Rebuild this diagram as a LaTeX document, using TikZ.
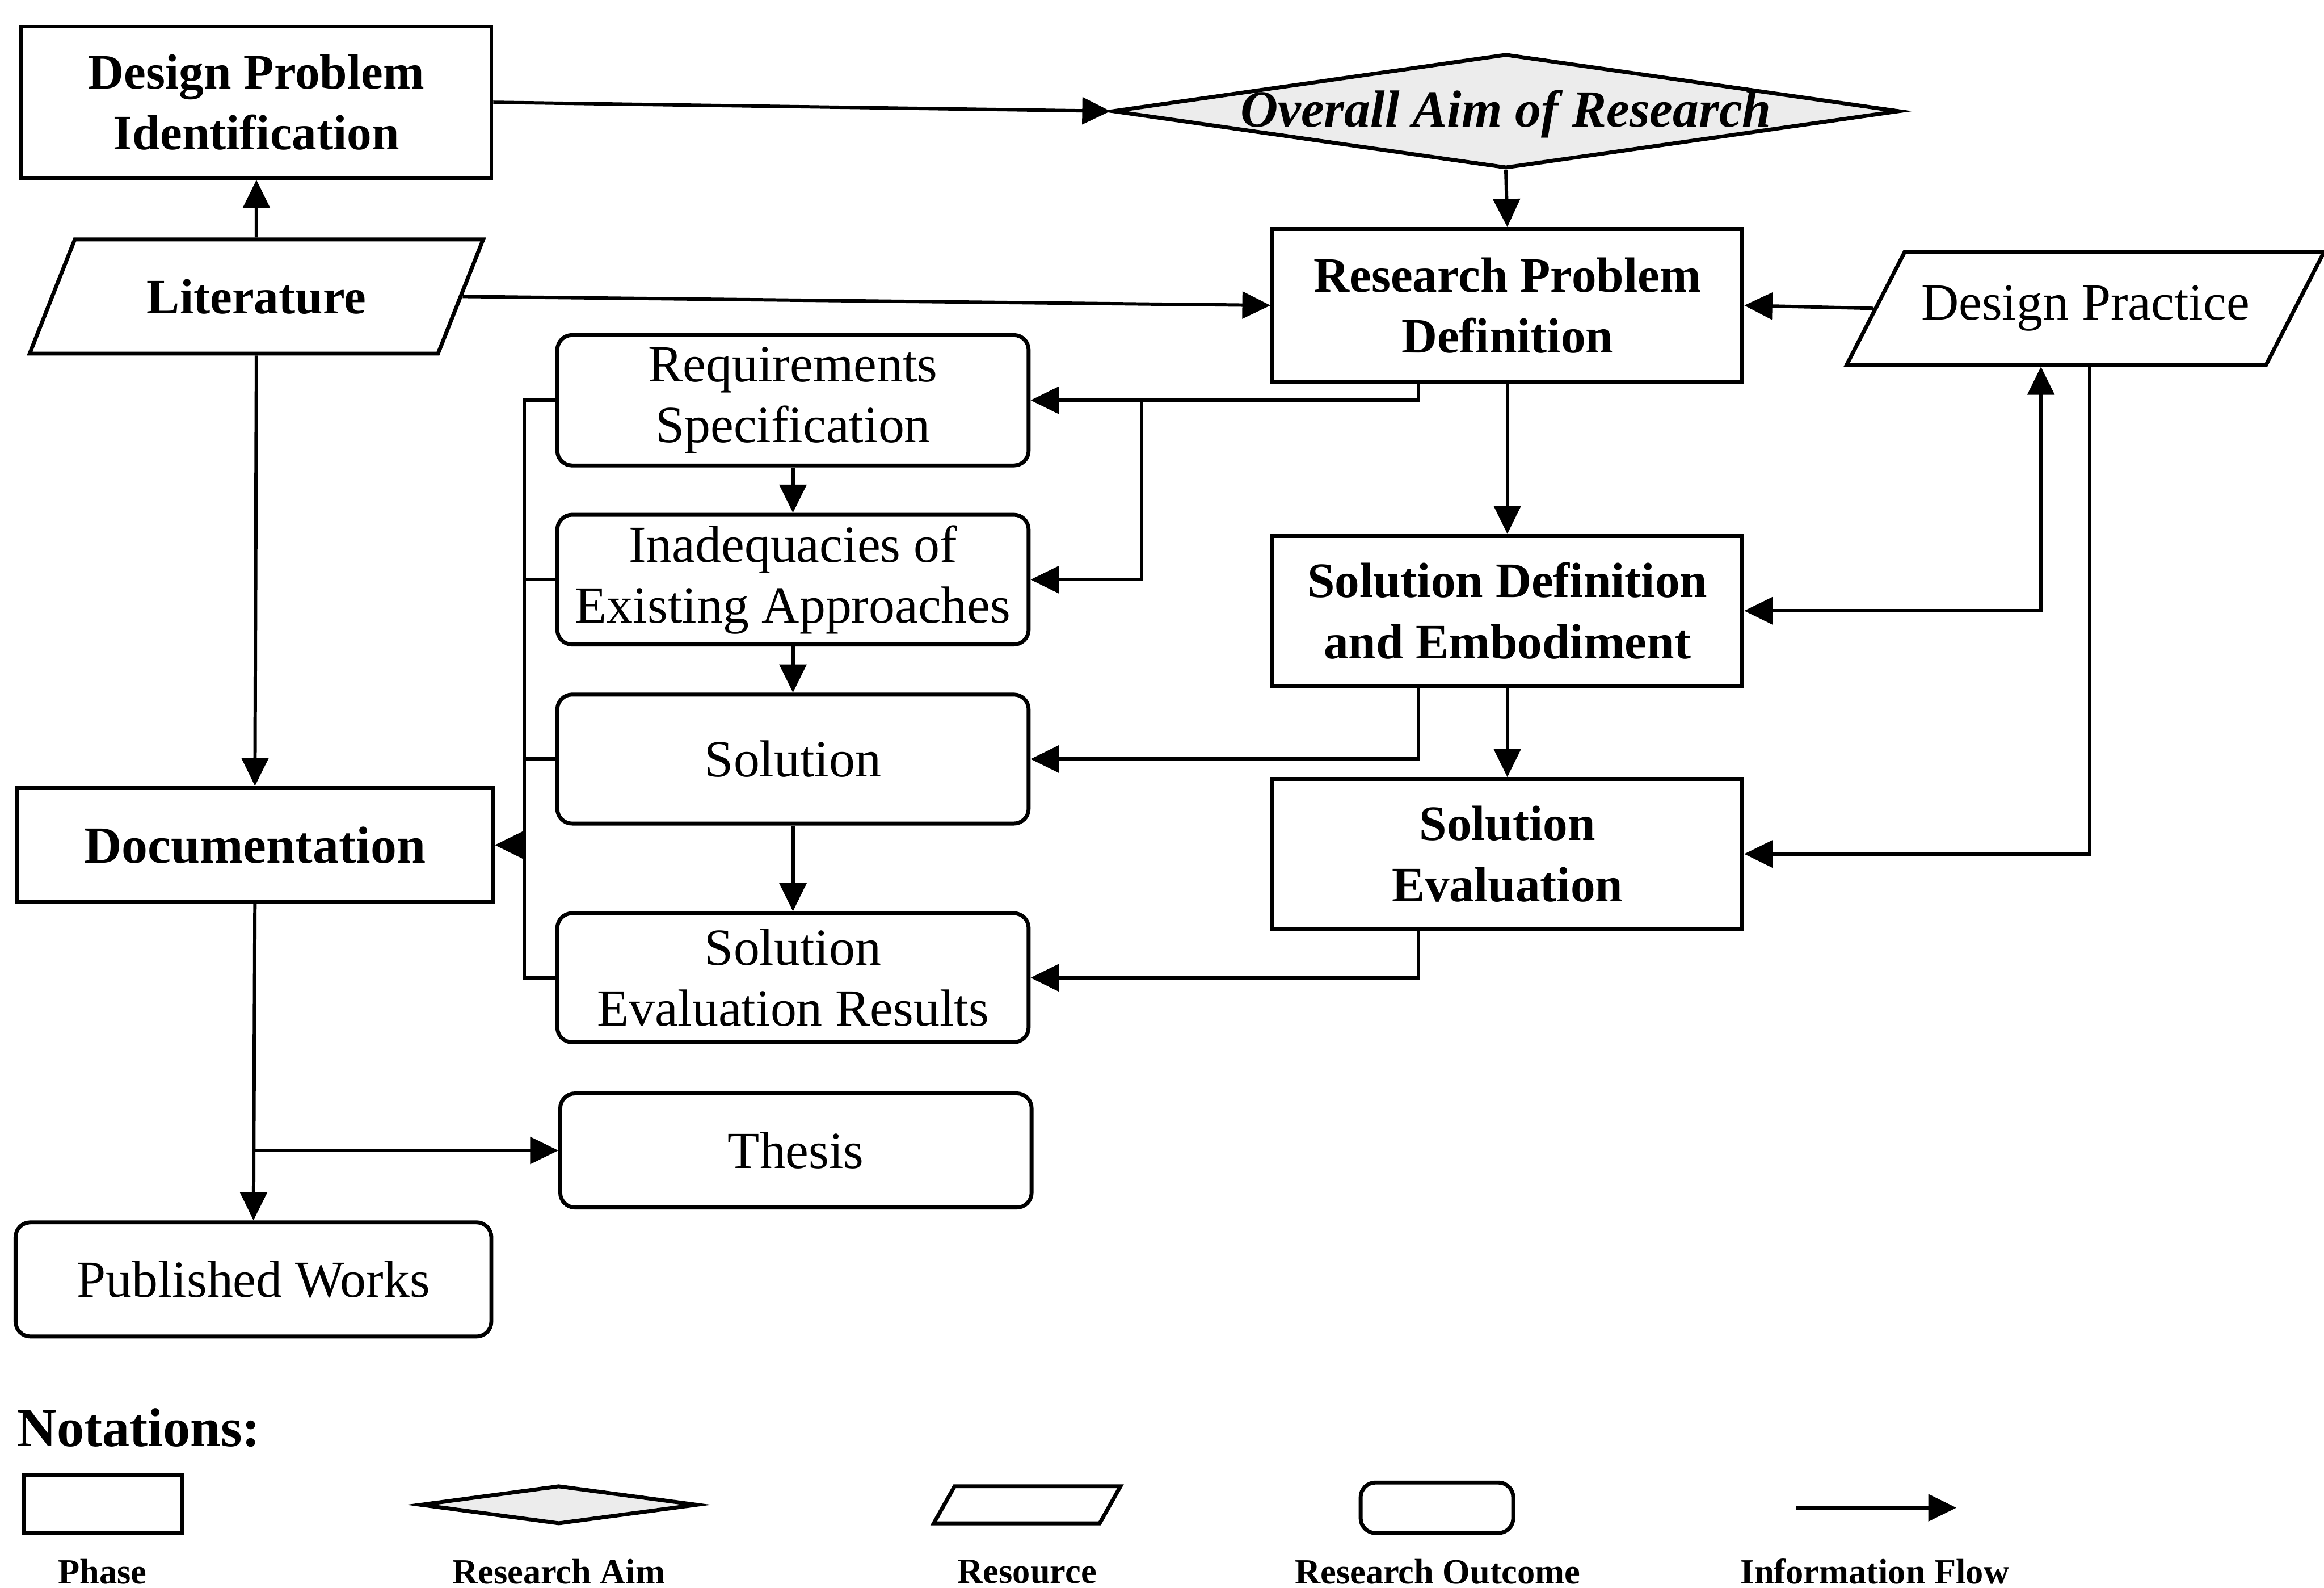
\documentclass[tikz,border=0pt]{standalone}
\usepackage{fontspec}
\setmainfont{Liberation Serif}
\usepackage{tikz}
\usetikzlibrary{arrows.meta, positioning, shapes.geometric, calc}
\definecolor{ink}{RGB}{0,0,0}
\definecolor{aimFill}{RGB}{236,236,236}
\tikzset{
  phaseNode/.style={
    draw=ink,
    line width=0.75pt,
    align=center,
    inner sep=2pt,
    font=\fontsize{9.5}{11.7}\selectfont\bfseries,
    fill=white
  },
  outcomeNode/.style={
    phaseNode,
    rounded corners=1mm,
    font=\fontsize{10}{11.7}\selectfont
  },
  resourceNode/.style={
    phaseNode,
    trapezium,
    trapezium stretches body,
    trapezium left angle=51,
    trapezium right angle=129,
    font=\fontsize{10}{11.7}\selectfont
  },
  aimNode/.style={
    draw=ink,
    line width=0.75pt,
    diamond,
    fill=aimFill,
    inner sep=0pt
  },
  flow/.style={-{Triangle[length=1.9mm,width=1.8mm]}, line width=0.65pt, draw=ink},
  twoWay/.style={{Triangle[length=1.9mm,width=1.8mm]}-{Triangle[length=1.9mm,width=1.8mm]}, line width=0.65pt, draw=ink},
  link/.style={line width=0.65pt, draw=ink},
  aimText/.style={font=\fontsize{10}{12}\selectfont\bfseries\itshape, inner sep=0pt},
  keyText/.style={font=\fontsize{6.8}{8}\selectfont\bfseries, inner sep=0pt},
  heading/.style={font=\fontsize{10.5}{12}\selectfont\bfseries, inner sep=0pt}
}

\begin{document}
\begin{tikzpicture}[x=0.1mm, y=-0.1mm]
  \useasboundingbox (0,0) rectangle (1568,1071);

  \node[phaseNode, minimum width=31.7mm, minimum height=10.2mm] (dpi) at (173,69) {Design Problem\\Identification};
  \node[aimNode, minimum width=53.1mm, minimum height=7.7mm, label={[aimText, yshift=-0.2mm]center:Overall Aim of Research}] (aim) at (1016,75) {};
  \node[resourceNode, font=\fontsize{9.5}{11.7}\selectfont\bfseries, minimum width=30.6mm, minimum height=7.7mm] (lit) at (173,200) {Literature};
  \node[phaseNode, minimum width=31.7mm, minimum height=10.3mm] (rpd) at (1017,206) {Research Problem\\Definition};
  \node[resourceNode, trapezium left angle=49, trapezium right angle=131, minimum width=32.2mm, minimum height=7.6mm] (dp) at (1407,208) {Design Practice};

  \node[outcomeNode, minimum width=31.8mm, minimum height=8.8mm] (req) at (535,270) {Requirements\\Specification};
  \node[outcomeNode, minimum width=31.8mm, minimum height=8.7mm] (inad) at (535,391) {Inadequacies of\\Existing Approaches};
  \node[outcomeNode, minimum width=31.8mm, minimum height=8.7mm] (sol) at (535,512) {Solution};
  \node[outcomeNode, minimum width=31.8mm, minimum height=8.7mm] (ser) at (535,659.5) {Solution\\Evaluation Results};
  \node[outcomeNode, minimum width=31.8mm, minimum height=7.7mm] (thesis) at (537,776) {Thesis};

  \node[phaseNode, minimum width=31.7mm, minimum height=10.1mm] (sde) at (1017,412) {Solution Definition\\and Embodiment};
  \node[phaseNode, minimum width=31.7mm, minimum height=10.1mm] (se) at (1017,576) {Solution\\Evaluation};
  \node[phaseNode, font=\fontsize{10}{11.7}\selectfont\bfseries, minimum width=32.1mm, minimum height=7.7mm] (doc) at (172,570) {Documentation};
  \node[outcomeNode, minimum width=32.1mm, minimum height=7.7mm] (pub) at (171,863) {Published Works};

  \draw[flow] (dpi.east) -- (aim.west);
  \draw[flow] (aim.south) -- (rpd.north);
  \draw[flow] (lit.north) -- (dpi.south);
  \draw[flow] (lit.east) -- (rpd.west);
  \draw[flow] (dp.west) -- (rpd.east);
  \draw[flow] ($(rpd.south)+(-60,0)$) |- (req.east);
  \draw[flow] ($(req.east)+(75,0)$) |- (inad.east);
  \draw[flow] (rpd.south) -- (sde.north);
  \draw[flow] (sde.south) -- (se.north);
  \draw[flow] ($(sde.south)+(-60,0)$) |- (sol.east);
  \draw[flow] ($(se.south)+(-60,0)$) |- (ser.east);
  \draw[twoWay] (sde.east) -| ($(dp.south)+(-30,0)$);
  \draw[flow] ($(dp.south)+(3,0)$) |- (se.east);

  \draw[flow] (req.south) -- (inad.north);
  \draw[flow] (inad.south) -- (sol.north);
  \draw[flow] (sol.south) -- (ser.north);

  \coordinate (bus) at ($(req.west)+(-21,0)$);
  \draw[link] (req.west) -- (bus) |- (ser.west);
  \draw[link] (inad.west) -- (bus |- inad.west);
  \draw[link] (sol.west) -- (bus |- sol.west);
  \draw[flow] (bus |- doc.east) -- (doc.east);

  \draw[flow] (lit.south) -- (doc.north);
  \draw[flow] (doc.south) -- (pub.north);
  \draw[flow] (doc.south |- thesis.west) -- (thesis.west);

  \node[heading, anchor=west] (notations) at (11,963) {Notations:};
  \node[phaseNode, minimum width=10.7mm, minimum height=3.9mm] (phaseKey) at (69.5,1014.5) {};
  \node[aimNode, minimum width=18.7mm, minimum height=2.6mm] (aimKey) at (377,1015) {};
  \node[resourceNode, trapezium left angle=45, trapezium right angle=135, minimum width=12.6mm, minimum height=2.5mm] (resourceKey) at (693,1015) {};
  \node[outcomeNode, minimum width=10.3mm, minimum height=3.4mm] (outcomeKey) at (969.5,1017) {};
  \coordinate (flowStart) at (1212,1017);
  \coordinate (flowEnd) at (1320,1017);
  \draw[flow] (flowStart) -- (flowEnd);

  \node[keyText] (phaseLbl) at (69,1060) {Phase};
  \node[keyText] (aimLbl) at (377,1060) {Research Aim};
  \node[keyText] (resourceLbl) at (693,1060) {Resource};
  \node[keyText] (outcomeLbl) at (970,1060) {Research Outcome};
  \node[keyText] (flowLbl) at (1265,1060) {Information Flow};
\end{tikzpicture}
\end{document}
